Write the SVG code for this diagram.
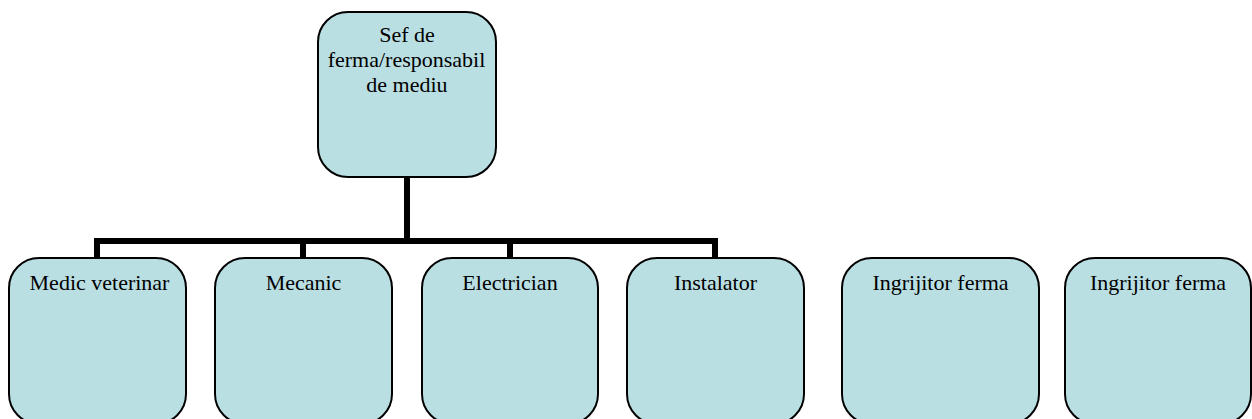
<svg xmlns="http://www.w3.org/2000/svg" width="1252" height="419" viewBox="0 0 1252 419">
<style>
.box{fill:#badfe3;stroke:#000;stroke-width:2}
.lbl{font-family:"Liberation Serif","Times New Roman",serif;font-size:22px;fill:#000;text-anchor:middle}
.con{fill:none;stroke:#000;stroke-width:6;stroke-linecap:butt;stroke-linejoin:miter}
</style>
<rect width="1252" height="419" fill="#fff"/>
<g id="connectors">
<path class="con" d="M407,177 V241"/>
<path class="con" d="M97,258 V241 H715 V258"/>
<path class="con" d="M303,241 V258"/>
<path class="con" d="M510,241 V258"/>
</g>
<g id="sef">
<rect class="box" x="318" y="12" width="178" height="165" rx="30"/>
<text class="lbl" x="407" y="42">Sef de</text>
<text class="lbl" x="406.5" y="67">ferma/responsabil</text>
<text class="lbl" x="407" y="92">de mediu</text>
</g>
<g id="medic">
<rect class="box" x="9" y="258" width="177" height="166" rx="30"/>
<text class="lbl" x="99.5" y="290">Medic veterinar</text>
</g>
<g id="mecanic">
<rect class="box" x="215" y="258" width="177" height="166" rx="30"/>
<text class="lbl" x="303.5" y="290">Mecanic</text>
</g>
<g id="electrician">
<rect class="box" x="422" y="258" width="176" height="166" rx="30"/>
<text class="lbl" x="510" y="290">Electrician</text>
</g>
<g id="instalator">
<rect class="box" x="627" y="258" width="177" height="166" rx="30"/>
<text class="lbl" x="715.5" y="290">Instalator</text>
</g>
<g id="ingrijitor1">
<rect class="box" x="842" y="258" width="197" height="166" rx="30"/>
<text class="lbl" x="940.5" y="290">Ingrijitor ferma</text>
</g>
<g id="ingrijitor2">
<rect class="box" x="1065" y="258" width="186" height="166" rx="30"/>
<text class="lbl" x="1158" y="290">Ingrijitor ferma</text>
</g>
</svg>
